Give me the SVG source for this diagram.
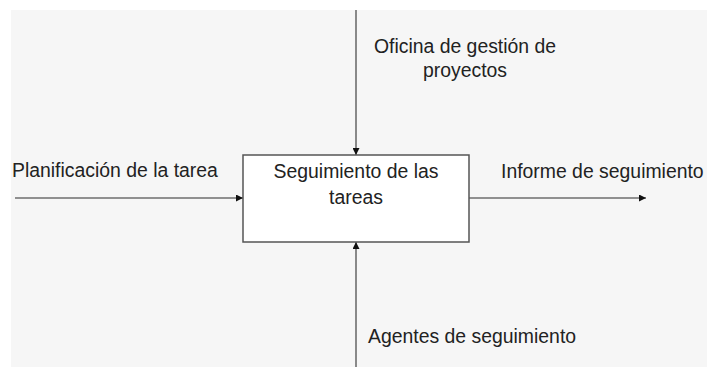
<svg xmlns="http://www.w3.org/2000/svg" width="707" height="367" viewBox="0 0 707 367">
<style>
.t{font-family:"Liberation Sans",Arial,sans-serif;font-size:19.4px;fill:#222}
.c{stroke:#6e6e6e;stroke-width:1.6;fill:none}
</style>
<defs>
<marker id="ah" viewBox="0 0 10 10" refX="10" refY="5" markerWidth="8" markerHeight="7" markerUnits="userSpaceOnUse" orient="auto">
<path d="M0,0 L10,5 L0,10 z" fill="#111"/>
</marker>
</defs>
<rect width="707" height="367" fill="#ffffff"/>
<rect x="11" y="10" width="696" height="357" fill="#f6f6f6"/>
<g id="connectors">
<line class="c" x1="356" y1="10" x2="356" y2="155" marker-end="url(#ah)"/>
<line class="c" x1="356" y1="367" x2="356" y2="242" marker-end="url(#ah)"/>
<line class="c" x1="15" y1="198" x2="243" y2="198" marker-end="url(#ah)"/>
<line class="c" x1="469" y1="198" x2="646" y2="198" marker-end="url(#ah)"/>
</g>
<g id="node-seguimiento">
<rect x="243" y="155" width="226" height="87" fill="#ffffff" stroke="#555" stroke-width="1.5"/>
<text class="t" x="356" y="178" text-anchor="middle">Seguimiento de las</text>
<text class="t" x="356" y="204" text-anchor="middle">tareas</text>
</g>
<g id="label-oficina">
<text class="t" x="465" y="53" text-anchor="middle">Oficina de gestión de</text>
<text class="t" x="465" y="77" text-anchor="middle">proyectos</text>
</g>
<g id="label-planificacion">
<text class="t" x="12" y="177">Planificación de la tarea</text>
</g>
<g id="label-informe">
<text class="t" x="501" y="178">Informe de seguimiento</text>
</g>
<g id="label-agentes">
<text class="t" x="368" y="343">Agentes de seguimiento</text>
</g>
</svg>
